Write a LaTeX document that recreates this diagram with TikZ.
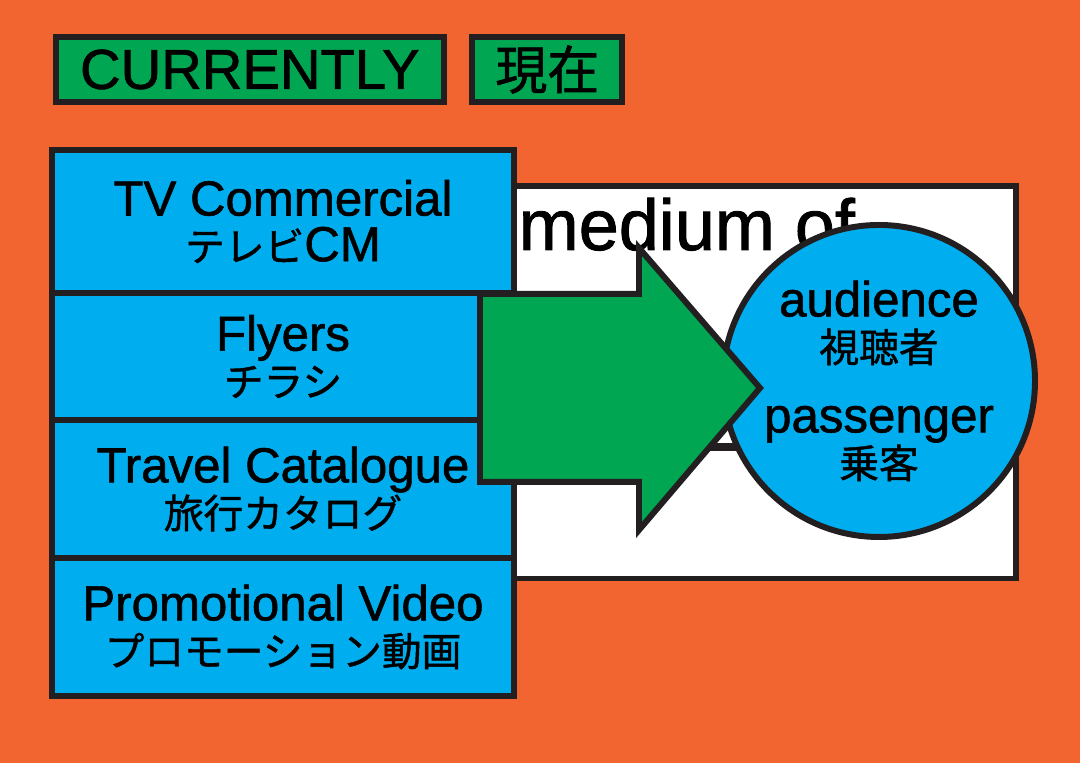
\documentclass[tikz,border=0pt]{standalone}
\usepackage{fontspec}
\setmainfont{Liberation Sans}[FakeBold=1.2]
\newfontfamily\jp{Noto Sans CJK JP}[FakeBold=1.2]
\usepackage{tikz}
\usetikzlibrary{shapes}
\definecolor{bgorange}{HTML}{F26531}
\definecolor{boxblue}{HTML}{00AEEF}
\definecolor{boxgreen}{HTML}{00A651}
\definecolor{inkblack}{HTML}{231F20}
\tikzstyle{headbox}=[rectangle,draw=inkblack,fill=boxgreen,line width=1.7pt,inner sep=0pt,minimum height=0.65cm,font=\fontsize{16}{16}\selectfont]
\tikzstyle{rowbox}=[rectangle,draw=inkblack,fill=boxblue,line width=1.7pt,inner sep=0pt,minimum width=4.62cm,align=center,font=\fontsize{14}{13}\selectfont]
\tikzstyle{mediumbox}=[rectangle,draw=inkblack,fill=white,line width=1.7pt,minimum width=5.02cm,minimum height=3.92cm]
\tikzstyle{audience}=[circle,draw=inkblack,fill=boxblue,line width=1.7pt,inner sep=0pt,minimum size=3.12cm,align=center,font=\fontsize{14}{13}\selectfont]
\tikzstyle{bigarrow}=[draw=inkblack,fill=boxgreen,line width=1.7pt]
\newcommand{\jpline}[1]{{\jp\fontsize{11.3}{13}\selectfont #1}}

\begin{document}
\begin{tikzpicture}[x=1cm,y=1cm]

    \useasboundingbox (0,0) rectangle (10.80,7.63);
    \fill[bgorange] (0,0) rectangle (10.80,7.63);

    % title
    \node[headbox, minimum width=3.88cm] (now) at (2.498, 6.935) {CURRENTLY};
    \node[headbox, minimum width=1.50cm] (nowjp) at (5.473, 6.935) {{\jp\fontsize{14.8}{16}\selectfont 現在}};

    % the medium, mostly hidden
    \node[mediumbox] (medium) at (7.645, 3.805) {};
    \node[anchor=base west, inner sep=0pt, font=\fontsize{20.5}{20}\selectfont] (mediumtxt) at (5.18, 5.13) {medium of};
    \coordinate (rulea) at (7.00, 3.16);
    \coordinate (ruleb) at (7.80, 3.16);
    \draw[inkblack, line width=2pt] (rulea) -- (ruleb);

    % media
    \foreach \y/\h/\name/\txt in {5.415/1.43/tv/{TV Commercial\\\jpline{テレビ}CM},
                                  4.065/1.27/flyers/{Flyers\\\jpline{チラシ}},
                                  2.740/1.38/travel/{Travel Catalogue\\\jpline{旅行カタログ}},
                                  1.360/1.38/promo/{Promotional Video\\\jpline{プロモーション動画}}}
        \node[rowbox, minimum height=\h cm] (\name) at (2.83, \y) {\txt};

    % audience
    \node[audience] (aud) at (8.79, 3.82) {audience\\\jpline{視聴者}\\[7pt]passenger\\\jpline{乗客}};

    % arrow
    \draw[bigarrow] (4.80,4.69) -- (6.39,4.69) -- (6.39,5.15) -- (7.60,3.75)
        -- (6.39,2.33) -- (6.39,2.81) -- (4.80,2.81) -- cycle;

\end{tikzpicture}
\end{document}
